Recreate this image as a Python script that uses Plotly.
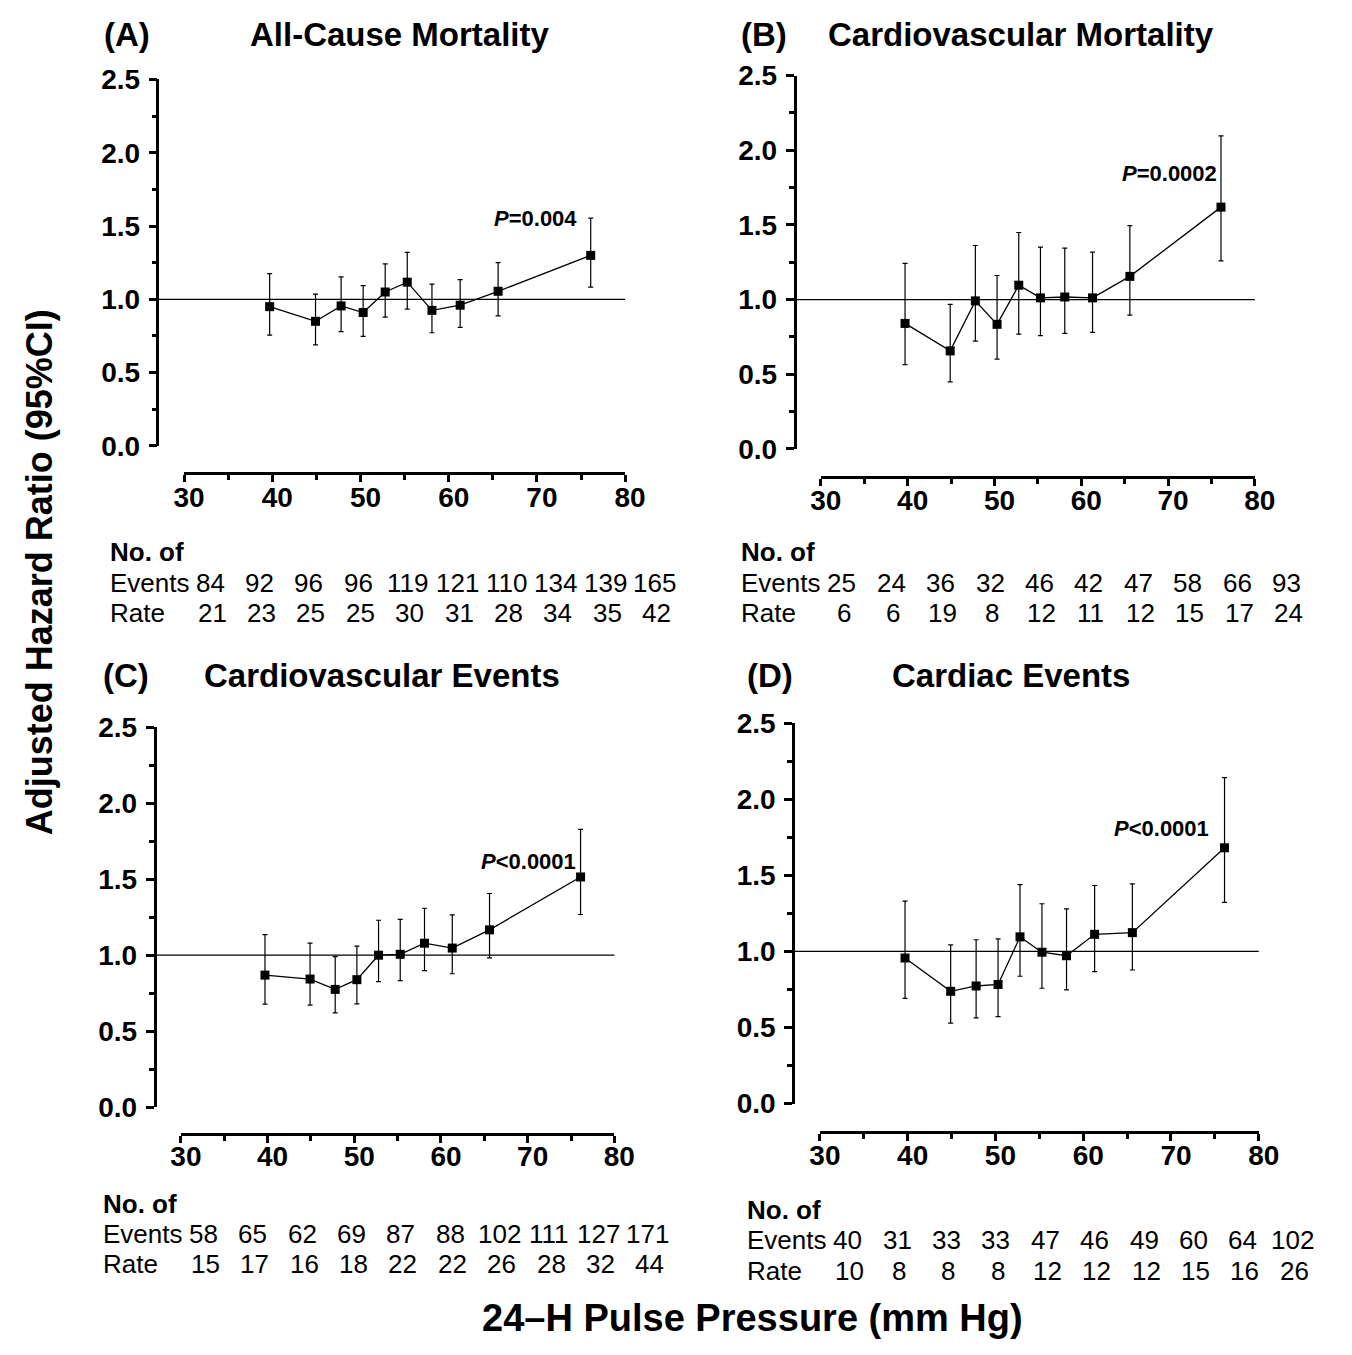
import plotly.graph_objects as go

W, H = 1352, 1355
FONT = "Liberation Sans, Arial, Helvetica, sans-serif"

# ---------------- data ----------------
pp_x = [39.7, 44.9, 47.8, 50.3, 52.8, 55.3, 58.1, 61.3, 65.6, 76.1]

titles = ["All-Cause Mortality", "Cardiovascular Mortality",
          "Cardiovascular Events", "Cardiac Events"]
letters = ["(A)", "(B)", "(C)", "(D)"]
p_texts = ["<i>P</i>=0.004", "<i>P</i>=0.0002", "<i>P</i>&lt;0.0001", "<i>P</i>&lt;0.0001"]
p_pos_x = [69.8, 70.2, 70.1, 68.9]
p_pos_y = [1.553, 1.845, 1.619, 1.806]

hr_a = [0.95, 0.85, 0.955, 0.91, 1.05, 1.117, 0.925, 0.96, 1.055, 1.30]
lo_a = [0.756, 0.69, 0.78, 0.747, 0.878, 0.933, 0.772, 0.809, 0.887, 1.084]
hi_a = [1.175, 1.035, 1.153, 1.093, 1.242, 1.32, 1.104, 1.135, 1.25, 1.554]

hr_b = [0.84, 0.656, 0.991, 0.834, 1.096, 1.011, 1.017, 1.011, 1.155, 1.619]
lo_b = [0.564, 0.449, 0.721, 0.601, 0.769, 0.758, 0.773, 0.78, 0.895, 1.259]
hi_b = [1.242, 0.967, 1.362, 1.161, 1.449, 1.351, 1.344, 1.318, 1.495, 2.096]

hr_c = [0.869, 0.843, 0.775, 0.839, 1.0, 1.006, 1.079, 1.047, 1.167, 1.515]
lo_c = [0.678, 0.672, 0.62, 0.68, 0.826, 0.833, 0.899, 0.878, 0.983, 1.268]
hi_c = [1.135, 1.079, 0.991, 1.06, 1.23, 1.236, 1.309, 1.266, 1.406, 1.828]

hr_d = [0.957, 0.738, 0.773, 0.783, 1.096, 0.995, 0.972, 1.113, 1.124, 1.682]
lo_d = [0.691, 0.529, 0.563, 0.571, 0.837, 0.758, 0.747, 0.867, 0.878, 1.323]
hi_d = [1.331, 1.044, 1.077, 1.083, 1.44, 1.314, 1.28, 1.434, 1.445, 2.143]

events_a = [84, 92, 96, 96, 119, 121, 110, 134, 139, 165]
rate_a = [21, 23, 25, 25, 30, 31, 28, 34, 35, 42]
events_b = [25, 24, 36, 32, 46, 42, 47, 58, 66, 93]
rate_b = [6, 6, 19, 8, 12, 11, 12, 15, 17, 24]
events_c = [58, 65, 62, 69, 87, 88, 102, 111, 127, 171]
rate_c = [15, 17, 16, 18, 22, 22, 26, 28, 32, 44]
events_d = [40, 31, 33, 33, 47, 46, 49, 60, 64, 102]
rate_d = [10, 8, 8, 8, 12, 12, 12, 15, 16, 26]

x_ticks = [30, 40, 50, 60, 70, 80]
y_ticks = [0.0, 0.5, 1.0, 1.5, 2.0, 2.5]

hrs = [hr_a, hr_b, hr_c, hr_d]
los = [lo_a, lo_b, lo_c, lo_d]
his = [hi_a, hi_b, hi_c, hi_d]
events = [events_a, events_b, events_c, events_d]
rates = [rate_a, rate_b, rate_c, rate_d]

# ---------------- layout geometry (pixels) ----------------
panels = [
    dict(yline=150, x30=177.3, x80=629, y0=441, y25=66, xline=468.7, xstand=-8,
         letter_x=93, title_cx=398, title_y=20, tab_x=99, tab_y=[550, 581, 612]),
    dict(yline=802.5, x30=829.5, x80=1274, y0=444, y25=62, xline=473, xstand=-10,
         letter_x=746, title_cx=1034.5, title_y=20, tab_x=746, tab_y=[550, 581, 612]),
    dict(yline=147, x30=174, x80=618, y0=1117.7, y25=729, xline=1145.7, xstand=-11,
         letter_x=92, title_cx=379.5, title_y=676, tab_x=92, tab_y=[1217, 1248, 1278]),
    dict(yline=801, x30=828.5, x80=1278, y0=1114, y25=725, xline=1143, xstand=-9,
         letter_x=752, title_cx=1024, title_y=676, tab_x=752, tab_y=[1223, 1254, 1285]),
]

def px(x):
    return x / W

def py(y):
    return 1 - y / H

fig = go.Figure()
layout = dict(
    width=W, height=H, margin=dict(l=0, r=0, t=0, b=0),
    paper_bgcolor="white", plot_bgcolor="white", showlegend=False,
    font=dict(family=FONT, color="black"),
)
annotations = []
shapes = []

tickfont = dict(family=FONT, size=28, color="black", weight="bold")

for i, p in enumerate(panels):
    n = "" if i == 0 else str(i + 1)
    xk, yk = "xaxis" + n, "yaxis" + n
    xr, yr = "x" + n, "y" + n

    hr, lo, hi = hrs[i], los[i], his[i]
    fig.add_trace(go.Scatter(
        x=pp_x, y=hr, mode="lines+markers", xaxis=xr, yaxis=yr,
        line=dict(color="black", width=1.3),
        marker=dict(symbol="square", size=9, color="black"),
        error_y=dict(type="data", symmetric=False,
                     array=[h - v for h, v in zip(hi, hr)],
                     arrayminus=[v - l for v, l in zip(hr, lo)],
                     color="black", thickness=1.2, width=2.5),
        cliponaxis=False,
    ))

    layout[xk] = dict(
        domain=[px(p["x30"]), px(p["x80"])], range=[30, 80],
        anchor="free", position=py(p["xline"]),
        showline=True, linewidth=2.5, linecolor="black",
        ticks="outside", ticklen=7, tickwidth=2.5, tickcolor="black",
        tickvals=x_ticks, ticktext=[str(v) for v in x_ticks],
        minor=dict(tick0=30, dtick=5, ticks="outside", ticklen=5,
                   tickwidth=2.5, tickcolor="black", showgrid=False),
        showgrid=False, zeroline=False, tickfont=tickfont,
        ticklabelstandoff=p["xstand"], ticklabelshift=5, fixedrange=True,
    )
    layout[yk] = dict(
        domain=[py(p["y0"]), py(p["y25"])], range=[0, 2.5],
        anchor="free", position=px(p["yline"]),
        showline=True, linewidth=2.5, linecolor="black",
        ticks="outside", ticklen=8, tickwidth=2.5, tickcolor="black",
        tickvals=y_ticks, tickformat=".1f",
        minor=dict(tick0=0, dtick=0.25, ticks="outside", ticklen=5,
                   tickwidth=2.5, tickcolor="black", showgrid=False),
        showgrid=False, zeroline=False, tickfont=tickfont,
        ticklabelstandoff=3, fixedrange=True,
    )

    # reference line at HR = 1
    shapes.append(dict(type="line", xref="paper", yref=yr,
                       x0=px(p["yline"]), x1=px(p["x80"]), y0=1, y1=1,
                       line=dict(color="black", width=1.3), layer="below"))

    annotations.append(dict(text="<b>%s</b>" % letters[i], xref="paper", yref="paper",
                            x=px(p["letter_x"]), y=py(p["title_y"]),
                            xanchor="left", yanchor="middle", showarrow=False,
                            font=dict(family=FONT, size=33, color="black")))
    annotations.append(dict(text="<b>%s</b>" % titles[i], xref="paper", yref="paper",
                            x=px(p["title_cx"]), y=py(p["title_y"]),
                            xanchor="center", yanchor="middle", showarrow=False,
                            font=dict(family=FONT, size=33, color="black")))
    annotations.append(dict(text="<b>%s</b>" % p_texts[i], xref=xr, yref=yr,
                            x=p_pos_x[i], y=p_pos_y[i],
                            xanchor="center", yanchor="middle", showarrow=False,
                            font=dict(family=FONT, size=22, color="black")))

    # table of events and rates
    tx = p["tab_x"]
    ty = p["tab_y"]
    annotations.append(dict(text="<b>No. of</b>", xref="paper", yref="paper",
                            x=px(tx), y=py(ty[0]), xanchor="left", yanchor="middle",
                            showarrow=False, font=dict(family=FONT, size=26, color="black")))
    for row, label in ((1, "Events"), (2, "Rate")):
        annotations.append(dict(text=label, xref="paper", yref="paper",
                                x=px(tx), y=py(ty[row]), xanchor="left", yanchor="middle",
                                showarrow=False, font=dict(family=FONT, size=26, color="black")))
    for j, (ev, rt) in enumerate(zip(events[i], rates[i])):
        cx = tx + 105 + 50.6 * j
        annotations.append(dict(text=str(ev), xref="paper", yref="paper",
                                x=px(cx), y=py(ty[1]), xanchor="center", yanchor="middle",
                                showarrow=False, font=dict(family=FONT, size=26, color="black")))
        annotations.append(dict(text=str(rt), xref="paper", yref="paper",
                                x=px(cx + 2), y=py(ty[2]), xanchor="center", yanchor="middle",
                                showarrow=False, font=dict(family=FONT, size=26, color="black")))

annotations.append(dict(text="<b>24\u2013H Pulse Pressure (mm Hg)</b>", xref="paper", yref="paper",
                        x=px(759.5), y=py(1333), xanchor="center", yanchor="middle",
                        showarrow=False, font=dict(family=FONT, size=38, color="black")))
annotations.append(dict(text="<b>Adjusted Hazard Ratio (95%CI)</b>", xref="paper", yref="paper",
                        x=px(30), y=py(570), xanchor="center", yanchor="middle",
                        textangle=-90, showarrow=False,
                        font=dict(family=FONT, size=36, color="black")))

layout["annotations"] = annotations
layout["shapes"] = shapes
fig.update_layout(**layout)
fig.write_html(
    "out.html",
    config={"displayModeBar": False},
    post_script="document.body.style.margin='0';document.body.style.overflow='hidden';",
)
